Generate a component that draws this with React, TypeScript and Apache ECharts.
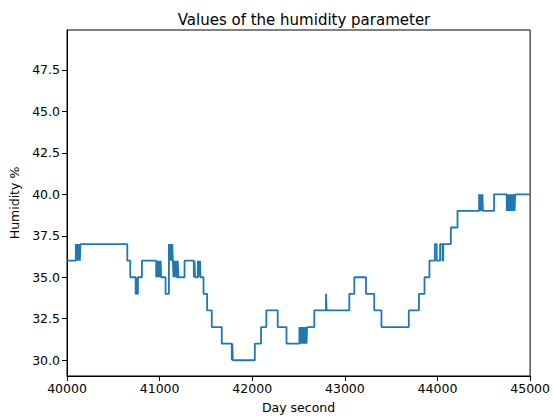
import React, { useEffect, useRef } from "react";
import * as echarts from "echarts";

// Moments (day second) at which the humidity reading changes, and the new reading.
const seconds = [
  40000, 40095, 40101, 40107, 40113, 40120, 40126, 40133, 40139, 40145,
  40651, 40683, 40741, 40750, 40756, 40766, 40809,
  40963, 40970, 40977, 40984, 40991, 40998, 41005, 41011, 41017,
  41064, 41100, 41106, 41112, 41118, 41124, 41130, 41136, 41143,
  41150, 41156, 41163, 41169, 41175, 41182, 41188, 41196, 41202,
  41269, 41369, 41376, 41383, 41412, 41418, 41424, 41430, 41436, 41442,
  41474, 41513, 41563, 41671, 41779, 41785, 41790,
  42028, 42095, 42152, 42275, 42370,
  42509, 42516, 42523, 42530, 42537, 42544, 42551, 42558, 42565, 42572, 42579, 42586, 42592,
  42670, 42796, 42803, 43048, 43102, 43228, 43317, 43395, 43690, 43800, 43860, 43913,
  43971, 43992, 44028, 44054, 44062,
  44144, 44216, 44449, 44455, 44461, 44467, 44473, 44479, 44485, 44491, 44495,
  44611, 44748, 44755, 44762, 44769, 44776, 44783, 44790, 44797, 44804, 44811, 44818, 44825, 44832, 44839, 44845,
  45000,
];

const humidity = [
  36, 37, 36, 37, 36, 37, 36, 37, 36, 37,
  36, 35, 34, 35, 34, 35, 36,
  35, 36, 35, 36, 35, 36, 35, 36, 35,
  34, 37, 36, 37, 36, 37, 36, 37, 36,
  35, 36, 35, 36, 35, 36, 35, 36, 35,
  36, 35, 36, 35, 36, 35, 36, 35, 36, 35,
  34, 33, 32, 31, 30, 31, 30,
  31, 32, 33, 32, 31,
  32, 31, 32, 31, 32, 31, 32, 31, 32, 31, 32, 31, 32,
  33, 34, 33, 34, 35, 34, 33, 32, 33, 34, 35, 36,
  37, 36, 37, 36, 37,
  38, 39, 40, 39, 40, 39, 40, 39, 40, 39, 39,
  40, 39, 40, 39, 40, 39, 40, 39, 40, 39, 40, 39, 40, 39, 40, 40,
  40,
];

const yTicks = [30, 32.5, 35, 37.5, 40, 42.5, 45, 47.5];

const FONT = "DejaVu Sans";

export default function App() {
  const ref = useRef<HTMLDivElement>(null);

  useEffect(() => {
    if (!ref.current) return;
    const chart = echarts.init(ref.current, undefined, { renderer: "svg" });
    const points = seconds.map((s, i) => [s, humidity[i]]);

    chart.setOption({
      animation: false,
      backgroundColor: "#ffffff",
      title: {
        text: "Values of the humidity parameter",
        left: 299,
        top: 7,
        textAlign: "center",
        textStyle: { fontFamily: FONT, fontSize: 15, fontWeight: "normal", color: "#000" },
      },
      grid: {
        left: 67,
        right: 22,
        top: 30,
        bottom: 44,
        show: true,
        borderColor: "#000",
        borderWidth: 1,
        backgroundColor: "transparent",
      },
      xAxis: {
        type: "value",
        min: 40000,
        max: 45000,
        interval: 1000,
        name: "Day second",
        nameLocation: "middle",
        nameGap: 25,
        nameTextStyle: { fontFamily: FONT, fontSize: 12.5, color: "#000" },
        axisLine: { show: true, lineStyle: { color: "#000", width: 1 } },
        axisTick: { show: true, length: 5, lineStyle: { color: "#000" } },
        axisLabel: {
          fontFamily: FONT,
          fontSize: 12.5,
          color: "#000",
          margin: 6,
          formatter: (v: number) => String(v),
        },
        splitLine: { show: false },
      },
      yAxis: {
        type: "value",
        min: 29.05,
        max: 49.9,
        name: "Humidity %",
        nameLocation: "middle",
        nameGap: 44,
        nameRotate: 90,
        nameTextStyle: { fontFamily: FONT, fontSize: 12.5, color: "#000" },
        axisLine: { show: true, lineStyle: { color: "#000", width: 1 } },
        axisTick: { show: true, length: 5, customValues: yTicks, lineStyle: { color: "#000" } },
        axisLabel: {
          fontFamily: FONT,
          fontSize: 12.5,
          color: "#000",
          margin: 7,
          customValues: yTicks,
          formatter: (v: number) => v.toFixed(1),
        },
        splitLine: { show: false },
      },
      series: [
        {
          type: "line",
          step: "end",
          data: points,
          symbol: "none",
          showSymbol: false,
          clip: true,
          lineStyle: { color: "#1f77b4", width: 1.8 },
        },
      ],
    });

    return () => chart.dispose();
  }, []);

  return (
    <div
      ref={ref}
      style={{ position: "fixed", left: 0, top: 0, width: 553, height: 420 }}
    />
  );
}
